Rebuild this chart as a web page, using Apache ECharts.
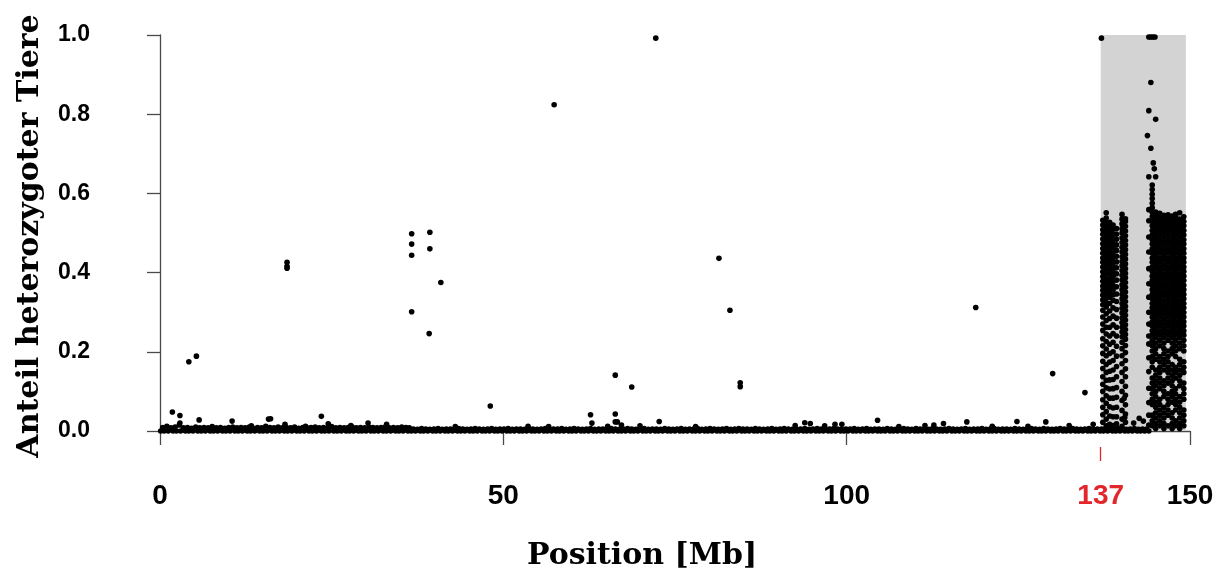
<!DOCTYPE html>
<html>
<head>
<meta charset="utf-8">
<script src="https://cdn.jsdelivr.net/npm/echarts@6/dist/echarts.min.js"></script>
<style>
  html, body { margin: 0; padding: 0; background: #ffffff; }
  #chart { width: 1215px; height: 576px; }
</style>
</head>
<body>
<div id="chart"></div>
<script>
// Axis ticks (Mb on x, fraction on y)
const xTickValues = [0, 50, 100, 150];
const xMarkValue = [137];
const yTickStep = 0.2;

// Highlighted candidate region on the chromosome (Mb)
const regionStart = 137;
const regionEnd = 149.4;

// SNPs with no heterozygous animals (value 0), positions in Mb
const zeroPos = [0.1,0.6,1.2,1.9,2.4,3.0,3.7,4.2,4.8,5.5,6.0,6.6,7.3,7.8,8.4,9.1,9.6,10.2,10.9,11.4,12.0,12.7,13.2,13.8,14.5,15.0,15.6,16.3,16.8,17.4,18.1,18.6,19.2,19.9,20.4,21.0,21.7,22.2,22.8,23.5,24.0,24.6,25.3,25.8,26.4,27.1,27.6,28.2,28.9,29.4,30.0,30.7,31.2,31.8,32.5,33.0,33.6,34.3,34.8,35.4,36.1,36.6,37.2,37.9,38.4,39.0,39.7,40.2,40.8,41.5,42.0,42.6,43.3,43.8,44.4,45.1,45.6,46.2,46.9,47.4,48.0,48.7,49.2,49.8,50.5,51.0,51.6,52.3,52.8,53.4,54.1,54.6,55.2,55.9,56.4,57.0,57.7,58.2,58.8,59.5,60.0,60.6,61.3,61.8,62.4,63.1,63.6,64.2,64.9,65.4,66.0,66.7,67.2,67.8,68.5,69.0,69.6,70.3,70.8,71.4,72.1,72.6,73.2,73.9,74.4,75.0,75.7,76.2,76.8,77.5,78.0,78.6,79.3,79.8,80.4,81.1,81.6,82.2,82.9,83.4,84.0,84.7,85.2,85.8,86.5,87.0,87.6,88.3,88.8,89.4,90.1,90.6,91.2,91.9,92.4,93.0,93.7,94.2,94.8,95.5,96.0,96.6,97.3,97.8,98.4,99.1,99.6,100.2,100.9,101.4,102.0,102.7,103.2,103.8,104.5,105.0,105.6,106.3,106.8,107.4,108.1,108.6,109.2,109.9,110.4,111.0,111.7,112.2,112.8,113.5,114.0,114.6,115.3,115.8,116.4,117.1,117.6,118.2,118.9,119.4,120.0,120.7,121.2,121.8,122.5,123.0,123.6,124.3,124.8,125.4,126.1,126.6,127.2,127.9,128.4,129.0,129.7,130.2,130.8,131.5,132.0,132.6,133.3,133.8,134.4,135.1,135.6,136.2,136.9,137.4,138.0,138.7,139.2,139.8,140.5,141.0,141.6,142.3,142.8,143.4,144.0];

// SNPs with a very low share of heterozygous animals (positions Mb / shares)
const lowPos = [
  0.4,1.0,1.6,2.2,2.8,3.4,4.0,4.6,5.2,5.8,6.4,7.0,7.6,8.2,8.8,9.4,10.0,10.6,11.2,11.8,
  12.4,13.0,13.6,14.2,14.8,15.4,16.0,16.6,17.2,17.8,18.4,19.0,19.6,20.2,20.8,21.4,22.0,22.6,23.2,23.8,
  24.4,25.0,25.6,26.2,26.8,27.4,28.0,28.6,29.2,29.8,30.4,31.0,31.6,32.2,32.8,33.4,34.0,34.6,35.2,35.8,36.3,
  36.9,37.5,38.1,38.7,39.3,39.9,40.5,41.1,41.7,42.3,42.9,43.5,44.1,44.7,45.3,45.9,46.5,47.1,47.7,48.3,
  48.9,49.5,50.1,50.7,51.3,51.9,52.5,53.1,53.7,54.3,54.9,55.5,56.1,56.7,57.3,57.9,58.5,59.1,59.7,60.3,
  60.9,61.5,62.1,62.7,63.3,63.9,64.5,65.1,65.7,66.3,66.9,67.5,68.1,68.7,69.3,69.9,70.5,71.1,71.7,72.3,
  72.9,73.5,74.1,74.7,75.3,75.9,76.5,77.1,77.7,78.3,78.9,79.5,80.1,80.7,81.3,81.9,82.5,83.1,83.7,84.3,
  84.9,85.5,86.1,86.7,87.3,87.9,88.5,89.1,89.7,90.3,90.9,91.5,92.1,92.7,93.3,93.9,94.5,95.1,95.7,96.3,
  96.9,97.5,98.1,98.7,99.3,99.9,100.5,101.1,101.7,102.3,102.9,103.5,104.1,104.7,105.3,105.9,106.5,107.1,107.7,108.3,
  108.9,109.5,110.1,110.7,111.3,111.9,112.5,113.1,113.7,114.3,114.9,115.5,116.1,116.7,117.3,117.9,118.5,119.1,119.7,120.3,
  120.9,121.5,122.1,122.7,123.3,123.9,124.5,125.1,125.7,126.3,126.9,127.5,128.1,128.7,129.3,129.9,130.5,131.1,131.7,132.3,
  132.9,133.5,134.1,134.7,135.3,135.9,136.5,137.1,137.7,138.3,138.9,139.5,140.1,140.7,141.3,141.9,142.5,143.1,143.7
];
const lowVal = [
  0.009,0.012,0.008,0.01,0.015,0.008,0.009,0.007,0.01,0.008,0.009,0.008,0.011,0.008,0.009,0.007,0.009,0.01,0.008,0.009,
  0.008,0.01,0.007,0.009,0.008,0.012,0.009,0.008,0.01,0.008,0.009,0.008,0.01,0.007,0.009,0.008,0.009,0.01,0.008,0.009,
  0.008,0.011,0.008,0.009,0.008,0.009,0.01,0.008,0.009,0.008,0.01,0.009,0.008,0.009,0.01,0.008,0.009,0.008,0.01,0.009,0.008,
  0.005,0.004,0.006,0.005,0.004,0.005,0.006,0.004,0.005,0.005,0.004,0.006,0.005,0.004,0.005,0.006,0.005,0.004,0.005,0.006,
  0.004,0.005,0.005,0.006,0.004,0.005,0.005,0.004,0.006,0.005,0.004,0.005,0.006,0.004,0.005,0.005,0.006,0.004,0.005,0.006,
  0.005,0.004,0.005,0.006,0.004,0.005,0.005,0.004,0.006,0.005,0.004,0.005,0.006,0.005,0.004,0.005,0.006,0.004,0.005,0.005,
  0.004,0.006,0.005,0.004,0.005,0.006,0.004,0.005,0.005,0.006,0.004,0.005,0.006,0.005,0.004,0.005,0.006,0.004,0.005,0.006,
  0.005,0.005,0.004,0.006,0.005,0.004,0.005,0.006,0.004,0.005,0.006,0.005,0.004,0.005,0.005,0.006,0.004,0.005,0.006,0.005,
  0.004,0.005,0.006,0.005,0.004,0.005,0.005,0.006,0.004,0.005,0.006,0.004,0.005,0.005,0.004,0.006,0.005,0.004,0.005,0.006,
  0.005,0.004,0.006,0.005,0.005,0.004,0.006,0.005,0.004,0.005,0.006,0.005,0.004,0.005,0.006,0.004,0.005,0.005,0.006,0.004,
  0.005,0.006,0.004,0.005,0.005,0.004,0.006,0.005,0.004,0.005,0.006,0.005,0.004,0.006,0.005,0.004,0.005,0.006,0.005,0.004,
  0.006,0.005,0.004,0.005,0.006,0.004,0.005,0.005,0.006,0.004,0.005,0.006,0.005,0.004,0.005,0.006,0.004,0.005,0.005
];

// Isolated SNPs above the baseline: [position Mb, share]
const scattered = [
  [1.8,0.048],[2.9,0.039],[2.9,0.02],[4.2,0.175],[5.3,0.189],[5.7,0.028],[10.5,0.025],[13.3,0.013],
  [15.8,0.03],[16.1,0.031],[18.2,0.017],[18.5,0.426],[18.5,0.416],[18.5,0.411],[21.2,0.012],
  [23.5,0.037],[24.5,0.018],[27.8,0.014],[30.3,0.02],[33.0,0.017],
  [36.65,0.498],[36.65,0.472],[36.65,0.444],[36.65,0.301],[39.3,0.502],[39.3,0.46],[39.2,0.246],[40.9,0.375],
  [43.0,0.011],[48.1,0.063],[53.6,0.012],[56.6,0.011],[57.4,0.824],[62.7,0.041],[62.9,0.02],[65.2,0.012],
  [66.3,0.141],[66.3,0.043],[66.3,0.023],[66.6,0.023],[67.2,0.015],[68.7,0.111],[69.9,0.013],
  [72.2,0.992],[72.7,0.024],[78.0,0.011],[81.4,0.436],[83.0,0.305],[84.5,0.122],[84.5,0.112],
  [92.5,0.014],[93.9,0.021],[94.7,0.019],[96.8,0.013],[98.3,0.017],[99.3,0.017],[104.5,0.027],
  [107.6,0.011],[111.4,0.014],[112.7,0.015],[114.1,0.019],[117.5,0.023],[118.8,0.312],[121.2,0.012],
  [124.8,0.024],[126.4,0.012],[129.0,0.023],[130.0,0.145],[132.4,0.014],[134.7,0.097],[135.9,0.017],
  [137.1,0.992],[140.4,0.082],[140.5,0.034],[141.8,0.02],[142.6,0.032],[143.2,0.025],
  [144.0,0.995],[144.3,0.995],[144.6,0.995],[144.9,0.995],[144.3,0.88],[144.0,0.809],[145.0,0.787],
  [143.8,0.746],[144.3,0.714],[144.65,0.677],[144.8,0.662],[144.0,0.642],[145.0,0.642]
];

// Dense SNP columns inside the candidate region: [position Mb, shares]
const regionColumns = [
  [137.3, [0.532,0.52,0.508,0.497,0.485,0.473,0.461,0.449,0.437,0.426,0.414,0.402,0.39,0.378,0.366,0.355,0.343,0.331,0.319,0.305,0.288,0.27,0.254,0.233,0.215,0.196,0.176,0.158,0.137,0.118,0.1,0.079,0.06,0.041,0.022]],
  [137.8, [0.551,0.538,0.526,0.514,0.502,0.491,0.479,0.467,0.455,0.443,0.431,0.42,0.408,0.396,0.384,0.372,0.36,0.349,0.337,0.325,0.313,0.296,0.279,0.262,0.245,0.226,0.207,0.19,0.168,0.148,0.128,0.109,0.089,0.07,0.049,0.03,0.013]],
  [138.3, [0.527,0.516,0.504,0.492,0.48,0.468,0.456,0.445,0.433,0.421,0.409,0.397,0.385,0.373,0.362,0.35,0.338,0.322,0.303,0.284,0.262,0.24,0.219,0.196,0.174,0.151,0.129,0.106,0.083,0.061,0.038,0.017]],
  [138.8, [0.52,0.51,0.498,0.486,0.474,0.462,0.45,0.439,0.427,0.415,0.403,0.391,0.379,0.367,0.356,0.344,0.33,0.311,0.29,0.268,0.246,0.224,0.2,0.178,0.154,0.13,0.107,0.083,0.058,0.036,0.014]],
  [139.3, [0.511,0.497,0.484,0.47,0.456,0.441,0.427,0.412,0.397,0.381,0.364,0.346,0.327,0.307,0.285,0.262,0.24,0.214,0.189,0.163,0.137,0.11,0.085,0.06,0.036,0.018]],
  [140.1, [0.547,0.535,0.523,0.511,0.5,0.488,0.476,0.464,0.452,0.44,0.428,0.417,0.405,0.393,0.381,0.369,0.357,0.345,0.334,0.322,0.31,0.298,0.286,0.274,0.262,0.25,0.238,0.224,0.208,0.19,0.17,0.148,0.125,0.1,0.077,0.052,0.03,0.012]],
  [140.6, [0.536,0.529,0.517,0.505,0.493,0.481,0.47,0.458,0.446,0.434,0.422,0.41,0.398,0.387,0.375,0.363,0.351,0.339,0.327,0.315,0.304,0.292,0.28,0.268,0.256,0.244,0.232,0.216,0.198,0.178,0.157,0.137,0.113,0.09,0.066,0.043,0.022]],
  [144.0, [0.559,0.531,0.49,0.452,0.41,0.372,0.338,0.3,0.27,0.24,0.22,0.185,0.15,0.108,0.072,0.04,0.015]],
  [144.5, [0.621,0.61,0.598,0.587,0.575,0.564,0.552,0.541,0.529,0.518,0.506,0.495,0.483,0.472,0.46,0.449,0.437,0.426,0.414,0.403,0.391,0.38,0.368,0.357,0.345,0.334,0.322,0.311,0.299,0.288,0.276,0.265,0.253,0.242,
           0.229,0.215,0.202,0.188,0.175,0.161,0.134,0.121,0.107,0.094,0.08,0.067,0.04,0.026,0.013]],
  [145.0, [0.553,0.547,0.535,0.524,0.512,0.501,0.489,0.478,0.466,0.455,0.443,0.432,0.42,0.409,0.397,0.386,0.374,0.363,0.351,0.34,0.328,0.317,0.305,0.294,0.282,0.271,0.259,0.248,0.236,
           0.222,0.208,0.195,0.181,0.154,0.141,0.127,0.114,0.1,0.087,0.073,0.06,0.046,0.033,0.019,0.006]],
  [145.6, [0.55,0.541,0.529,0.518,0.506,0.495,0.483,0.472,0.46,0.449,0.437,0.426,0.414,0.403,0.391,0.38,0.368,0.357,0.345,0.334,0.322,0.311,0.299,0.288,0.276,0.265,0.253,0.242,
           0.229,0.215,0.188,0.175,0.161,0.148,0.134,0.121,0.107,0.08,0.067,0.053,0.04,0.026,0.013]],
  [146.2, [0.545,0.535,0.524,0.512,0.501,0.489,0.478,0.466,0.455,0.443,0.432,0.42,0.409,0.397,0.386,0.374,0.363,0.351,0.34,0.328,0.317,0.305,0.294,0.282,0.271,0.259,0.248,0.236,
           0.222,0.208,0.195,0.181,0.168,0.154,0.127,0.114,0.1,0.087,0.06,0.046,0.033,0.019,0.006]],
  [146.8, [0.546,0.541,0.529,0.518,0.506,0.495,0.483,0.472,0.46,0.449,0.437,0.426,0.414,0.403,0.391,0.38,0.368,0.357,0.345,0.334,0.322,0.311,0.299,0.288,0.276,0.265,0.253,0.242,
           0.229,0.202,0.188,0.175,0.161,0.148,0.134,0.121,0.094,0.08,0.067,0.053,0.04,0.013]],
  [147.4, [0.543,0.535,0.524,0.512,0.501,0.489,0.478,0.466,0.455,0.443,0.432,0.42,0.409,0.397,0.386,0.374,0.363,0.351,0.34,0.328,0.317,0.305,0.294,0.282,0.271,0.259,0.248,0.236,
           0.222,0.208,0.195,0.168,0.154,0.141,0.127,0.114,0.1,0.087,0.073,0.046,0.033,0.019,0.006]],
  [147.9, [0.547,0.541,0.529,0.518,0.506,0.495,0.483,0.472,0.46,0.449,0.437,0.426,0.414,0.403,0.391,0.38,0.368,0.357,0.345,0.334,0.322,0.311,0.299,0.288,0.276,0.265,0.253,0.242,
           0.229,0.215,0.202,0.188,0.161,0.148,0.134,0.107,0.094,0.08,0.067,0.053,0.026,0.013]],
  [148.5, [0.551,0.535,0.524,0.512,0.501,0.489,0.478,0.466,0.455,0.443,0.432,0.42,0.409,0.397,0.386,0.374,0.363,0.351,0.34,0.328,0.317,0.305,0.294,0.282,0.271,0.259,0.248,0.236,
           0.222,0.208,0.181,0.168,0.154,0.141,0.127,0.114,0.087,0.073,0.06,0.046,0.033,0.019,0.006]],
  [149.1, [0.541,0.529,0.518,0.506,0.495,0.483,0.472,0.46,0.449,0.437,0.426,0.414,0.403,0.391,0.38,0.368,0.357,0.345,0.334,0.322,0.311,0.299,0.288,0.276,0.265,0.253,0.242,
           0.229,0.215,0.202,0.175,0.161,0.148,0.121,0.107,0.094,0.08,0.053,0.04,0.026,0.013]]
];

// Build [x, y] points for the scatter series
const zeroPoints = zeroPos.map(x => [x, 0]);
const lowPoints = lowPos.map((x, i) => [x, lowVal[i]]).filter(p => p[1] !== undefined);
const regionPoints = [];
regionColumns.forEach(([x, ys]) => ys.forEach(y => regionPoints.push([x, y])));

const axisGrey = '#4a4a4a';
const markRed = '#e3262b';
const tickFont = '"Liberation Sans", Arial, sans-serif';

function dots(data) {
  return {
    type: 'scatter', data: data, symbol: 'circle', symbolSize: 5.6,
    itemStyle: { color: '#000000', opacity: 1 }, clip: false, silent: true, z: 3
  };
}

const chart = echarts.init(document.getElementById('chart'), null, { renderer: 'canvas' });
chart.setOption({
  animation: false,
  backgroundColor: '#ffffff',
  grid: { left: 160, right: 25, top: 35, bottom: 145, containLabel: false, outerBoundsMode: 'none' },
  xAxis: [
    {
      type: 'value', min: 0, max: 150, position: 'bottom', offset: 16,
      axisLine: { show: true, lineStyle: { color: axisGrey, width: 1.3 } },
      axisTick: { show: true, length: 14, customValues: xTickValues, lineStyle: { color: axisGrey, width: 1.3 } },
      axisLabel: {
        customValues: xTickValues, margin: 35, color: '#000000',
        fontFamily: tickFont, fontWeight: 'bold', fontSize: 28
      },
      splitLine: { show: false }
    },
    {
      type: 'value', min: 0, max: 150, position: 'bottom', offset: 16,
      axisLine: { show: false },
      axisTick: { show: true, length: 14, customValues: xMarkValue, lineStyle: { color: markRed, width: 1.3 } },
      axisLabel: {
        customValues: xMarkValue, margin: 35, color: markRed,
        fontFamily: tickFont, fontWeight: 'bold', fontSize: 28
      },
      splitLine: { show: false }
    }
  ],
  yAxis: {
    type: 'value', min: 0, max: 1, interval: yTickStep, position: 'left', offset: 42,
    axisLine: { show: true, lineStyle: { color: axisGrey, width: 1.3 } },
    axisTick: { show: true, length: 13, lineStyle: { color: axisGrey, width: 1.3 } },
    axisLabel: {
      margin: 28, color: '#000000', fontFamily: tickFont,
      fontWeight: 'bold', fontSize: 23, formatter: v => v.toFixed(1)
    },
    splitLine: { show: false }
  },
  graphic: [
    {
      type: 'text', x: 642, y: 556,
      style: {
        text: 'Position [Mb]',
        font: 'bold 30px "DejaVu Serif", serif', fill: '#000000',
        align: 'center', verticalAlign: 'middle'
      }
    },
    {
      type: 'text', x: 30, y: 236, rotation: Math.PI / 2,
      style: {
        text: 'Anteil heterozygoter Tiere',
        font: 'bold 30px "DejaVu Serif", serif', fill: '#000000',
        align: 'center', verticalAlign: 'middle'
      }
    }
  ],
  series: [
    {
      type: 'scatter', data: [], z: 1, silent: true,
      markArea: {
        silent: true,
        itemStyle: { color: '#d3d3d3', opacity: 1 },
        data: [[{ xAxis: regionStart, yAxis: 0 }, { xAxis: regionEnd, yAxis: 1 }]]
      }
    },
    dots(zeroPoints),
    dots(lowPoints),
    dots(scattered),
    dots(regionPoints)
  ]
});
</script>
</body>
</html>
